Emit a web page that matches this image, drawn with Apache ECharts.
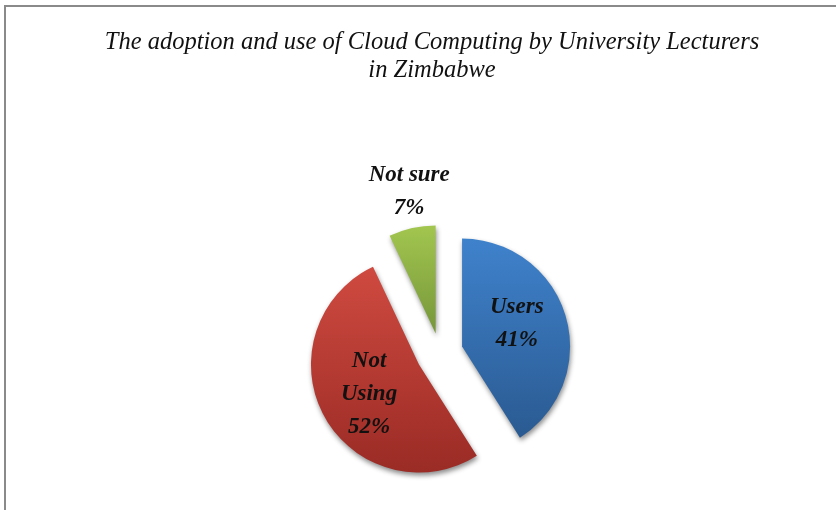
<!DOCTYPE html>
<html>
<head>
<meta charset="utf-8">
<script src="https://cdn.jsdelivr.net/npm/echarts@6/dist/echarts.min.js"></script>
<style>
  html, body { margin: 0; padding: 0; background: #ffffff; }
  #chart { width: 836px; height: 510px; }
</style>
</head>
<body>
<div id="chart"></div>
<script>
// Survey shares (percent)
const categories = ['Users', 'Not Using', 'Not sure'];
const shares = [41, 52, 7];
const sliceColors = [
  ['#3f82cc', '#2a5a91'],
  ['#cf4a40', '#9a2b25'],
  ['#a2c64f', '#76963a']
];
const explodeOffsets = [23, 24, 20];
const titleText = 'The adoption and use of Cloud Computing by University Lecturers\nin Zimbabwe';

const serifItalic = '"Liberation Serif", "DejaVu Serif", serif';

function gradient(pair) {
  return new echarts.graphic.LinearGradient(0, 0, 0, 1, [
    { offset: 0, color: pair[0] },
    { offset: 1, color: pair[1] }
  ]);
}

// Per-slice label nudges: the small slice carries its label above the pie.
const labelNudges = [
  { dx: 0, dy: -7 },
  { dx: 0, dy: 2 },
  { dx: -14, dy: -86 }
];

// One pie series per slice so every slice can be pulled out by its own amount;
// the other slices in each series are left invisible.
const series = categories.map(function (name, k) {
  return {
    type: 'pie',
    center: [440, 353],
    radius: [0, 108],
    startAngle: 90,
    clockwise: true,
    selectedMode: 'multiple',
    selectedOffset: explodeOffsets[k],
    animation: false,
    silent: true,
    labelLine: { show: false },
    labelLayout: labelNudges[k],
    data: categories.map(function (n, i) {
      const visible = i === k;
      return {
        name: n,
        value: shares[i],
        selected: visible,
        itemStyle: visible ? {
          color: gradient(sliceColors[i]),
          shadowColor: 'rgba(0,0,0,0.45)',
          shadowBlur: 5,
          shadowOffsetX: 1,
          shadowOffsetY: 3
        } : { color: 'rgba(0,0,0,0)' },
        label: visible ? {
          show: true,
          position: 'inside',
          formatter: i === 1 ? 'Not\nUsing\n{d}%' : '{b}\n{d}%',
          fontFamily: serifItalic,
          fontStyle: 'italic',
          fontWeight: 'bold',
          fontSize: 23,
          lineHeight: 33,
          color: '#111111',
          align: 'center'
        } : { show: false }
      };
    })
  };
});

const chart = echarts.init(document.getElementById('chart'), null, { renderer: 'canvas' });
chart.setOption({
  backgroundColor: '#ffffff',
  title: {
    text: titleText,
    left: 427,
    top: 24,
    textAlign: 'center',
    textStyle: {
      fontFamily: serifItalic,
      fontStyle: 'italic',
      fontWeight: 'normal',
      fontSize: 24.5,
      lineHeight: 28,
      color: '#111111'
    }
  },
  graphic: [
    { type: 'rect', shape: { x: 4, y: 5, width: 840, height: 2 }, style: { fill: '#8a8a8a' }, silent: true },
    { type: 'rect', shape: { x: 4, y: 5, width: 2, height: 510 }, style: { fill: '#8a8a8a' }, silent: true }
  ],
  series: series
});
</script>
</body>
</html>
